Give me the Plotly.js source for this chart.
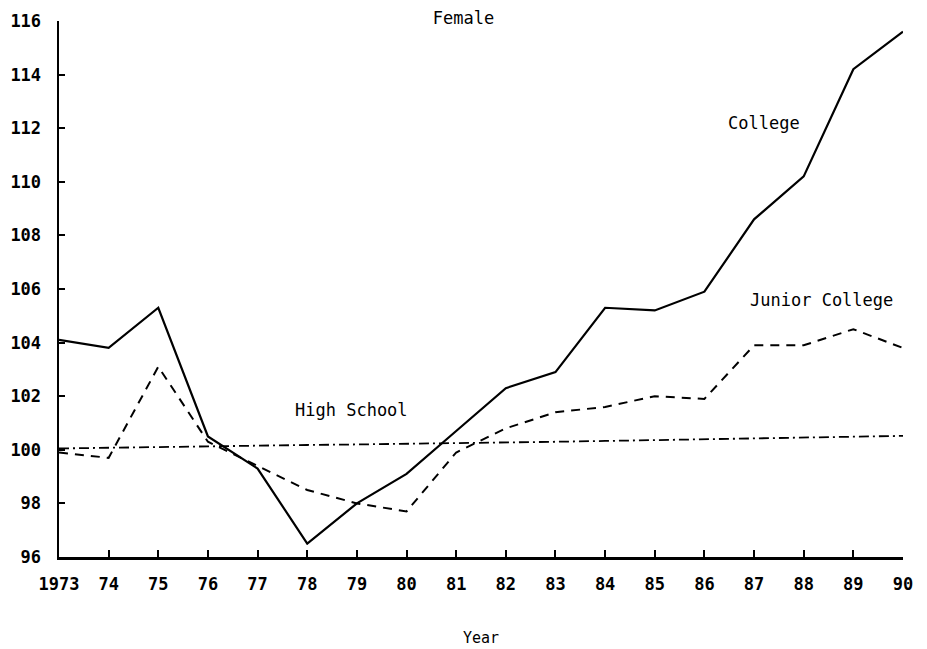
<!DOCTYPE html>
<html>
<head>
<meta charset="utf-8">
<script src="https://cdn.plot.ly/plotly-3.0.1.min.js"></script>
<style>html,body{margin:0;padding:0;background:#fff;}#chart{width:927px;height:649px;}</style>
</head>
<body>
<div id="chart"></div>
<script>
const years = [1973,1974,1975,1976,1977,1978,1979,1980,1981,1982,1983,1984,1985,1986,1987,1988,1989,1990];
const tickLabels = ["1973","74","75","76","77","78","79","80","81","82","83","84","85","86","87","88","89","90"];
const college = [104.1,103.8,105.3,100.5,99.3,96.5,98.0,99.1,100.7,102.3,102.9,105.3,105.2,105.9,108.6,110.2,114.2,115.6];
const juniorCollege = [99.9,99.7,103.1,100.3,99.4,98.5,98.0,97.7,99.9,100.8,101.4,101.6,102.0,101.9,103.9,103.9,104.5,103.8];
const highSchool = [100.05,100.08,100.1,100.12,100.15,100.18,100.2,100.22,100.25,100.28,100.3,100.33,100.36,100.39,100.42,100.45,100.48,100.52];
const yTicks = [96,98,100,102,104,106,108,110,112,114,116];
const yTickLabels = ["96","98","100","102","104","106","108","110","112","114","116"];

const font = "DejaVu Sans Mono, monospace";
const traces = [
  {x: years, y: college, mode: "lines", name: "College", line: {color: "#000", width: 2.2}},
  {x: years, y: juniorCollege, mode: "lines", name: "Junior College", line: {color: "#000", width: 2, dash: "9px,7px"}},
  {x: years, y: highSchool, mode: "lines", name: "High School", line: {color: "#000", width: 1.8, dash: "10px,4px,2px,4px"}}
];
const layout = {
  width: 927, height: 649,
  paper_bgcolor: "#fff", plot_bgcolor: "#fff",
  showlegend: false,
  margin: {l: 59, r: 24, t: 21, b: 92},
  font: {family: font, color: "#000"},
  title: {text: "Female", font: {family: font, size: 17, color: "#000"}, x: 0.5, xanchor: "center", y: 0.972, yanchor: "middle"},
  xaxis: {
    range: [1973, 1990], tickvals: years, ticktext: tickLabels,
    ticks: "inside", ticklen: 7, tickwidth: 2, tickcolor: "#000",
    showline: true, linecolor: "#000", linewidth: 2.5,
    showgrid: false, zeroline: false, ticklabelstandoff: 10,
    tickfont: {family: font, size: 17, color: "#000", weight: "bold"},
    title: {text: "Year", font: {family: font, size: 15, color: "#000"}, standoff: 40}
  },
  yaxis: {
    range: [96, 116], tickvals: yTicks, ticktext: yTickLabels,
    ticks: "inside", ticklen: 6, tickwidth: 2, tickcolor: "#000",
    showline: true, linecolor: "#000", linewidth: 2.5,
    showgrid: false, zeroline: false, ticklabelstandoff: 12,
    tickfont: {family: font, size: 17, color: "#000", weight: "bold"}
  },
  annotations: [
    {x: 1987.2, y: 112.2, xref: "x", yref: "y", text: "College", showarrow: false, font: {family: font, size: 17, color: "#000"}},
    {x: 1988.35, y: 105.6, xref: "x", yref: "y", text: "Junior College", showarrow: false, font: {family: font, size: 17, color: "#000"}},
    {x: 1978.9, y: 101.5, xref: "x", yref: "y", text: "High School", showarrow: false, font: {family: font, size: 17, color: "#000"}}
  ]
};
Plotly.newPlot("chart", traces, layout, {displayModeBar: false, staticPlot: true});
</script>
</body>
</html>
